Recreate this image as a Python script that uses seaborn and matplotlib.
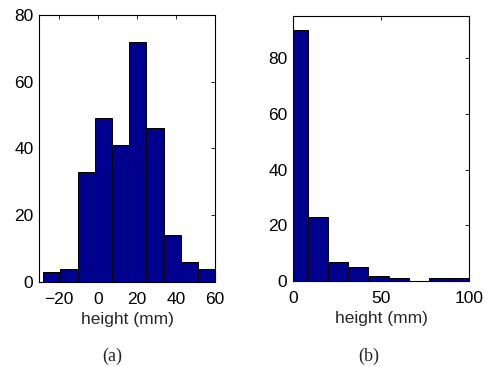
import numpy as np
import matplotlib
matplotlib.use('Agg')
import matplotlib.pyplot as plt
import seaborn as sns

# (a) histogram of heights, bin edges and counts
a_edges = [-28.1, -19.3, -10.5, -1.7, 7.1, 16.0, 24.8, 33.6, 42.4, 51.2, 60.0]
a_counts = [3, 4, 33, 49, 41, 72, 46, 14, 6, 4]

# (b) histogram, first bin starts below zero and is clipped by the axis
b_edges = [-2.7, 8.7, 20.1, 31.5, 42.9, 54.3, 65.7, 77.1, 88.5, 99.9]
b_counts = [90, 23, 7, 5, 2, 1, 0, 1, 1]

a_centers = [(a_edges[i] + a_edges[i + 1]) / 2 for i in range(len(a_counts))]
b_centers = [(b_edges[i] + b_edges[i + 1]) / 2 for i in range(len(b_counts))]

sns.set_style('white')
plt.rcParams['font.family'] = ['Liberation Sans', 'DejaVu Sans']

FS = 12.5
BAR = '#00008f'

fig = plt.figure(figsize=(4.87, 3.67), dpi=100)
ax1 = fig.add_axes([0.080, 0.232, 0.3615, 0.727])
ax2 = fig.add_axes([0.6016, 0.234, 0.3614, 0.723])

sns.histplot(x=a_centers, weights=a_counts, bins=a_edges, ax=ax1,
             color=BAR, alpha=1, edgecolor='black', linewidth=0.7)
sns.histplot(x=b_centers, weights=b_counts, bins=b_edges, ax=ax2,
             color=BAR, alpha=1, edgecolor='black', linewidth=0.7)

ax1.set_xlim(-30.3, 60)
ax1.set_ylim(0, 80)
ax1.set_xticks([-20, 0, 20, 40, 60])
ax1.set_xticklabels(['\u221220', '0', '20', '40', '60'])
ax1.set_yticks([0, 20, 40, 60, 80])

ax2.set_xlim(0, 100)
ax2.set_ylim(0, 95.2)
ax2.set_xticks([0, 50, 100])
ax2.set_yticks([0, 20, 40, 60, 80])

for ax in (ax1, ax2):
    ax.set_ylabel('')
    ax.set_xlabel('height (mm)', fontsize=FS, labelpad=4)
    ax.tick_params(direction='in', length=3, width=0.6, top=True, right=True,
                   labelsize=FS, pad=4, colors='black')
    ax.tick_params(axis='x', pad=7)
    for s in ax.spines.values():
        s.set_visible(True)
        s.set_color('black')
        s.set_linewidth(0.8)

fig.text(0.230, 0.030, '(a)', ha='center', va='center', fontsize=13,
         family=['Liberation Serif', 'DejaVu Serif'])
fig.text(0.758, 0.030, '(b)', ha='center', va='center', fontsize=13,
         family=['Liberation Serif', 'DejaVu Serif'])

fig.savefig('out.png', dpi=100)
